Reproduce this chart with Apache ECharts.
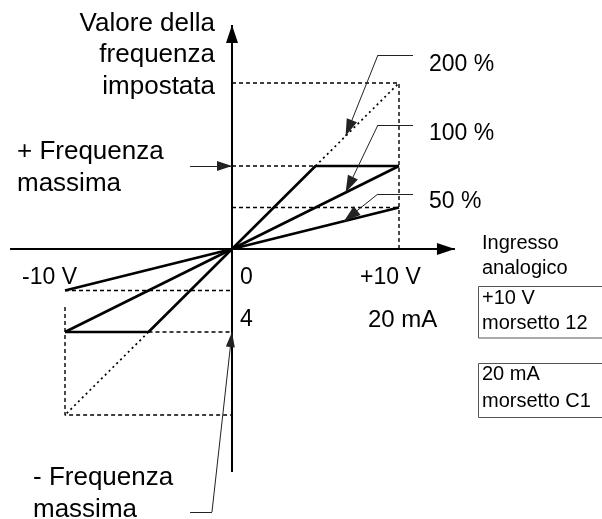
<!DOCTYPE html>
<html>
<head>
<meta charset="utf-8">
<script src="https://cdn.jsdelivr.net/npm/echarts@6/dist/echarts.min.js"></script>
<style>
  html, body { margin: 0; padding: 0; background: #fff; }
  #chart { width: 602px; height: 519px; }
</style>
</head>
<body>
<div id="chart"></div>
<script>
// Analog input (V) vs. set frequency (% of maximum frequency) for three gain settings.
const gains = [200, 100, 50];

const gain50 = [[-10, -50], [0, 0], [10, 50]];
const gain100 = [[-10, -100], [0, 0], [10, 100]];
// 200 % gain is limited at +/- maximum frequency
const gain200Limited = [[-10, -100], [-5, -100], [0, 0], [5, 100], [10, 100]];
const gain200UpperIdeal = [[5, 100], [10, 200]];
const gain200LowerIdeal = [[-5, -100], [-10, -200]];

// reference (dashed) guides
const guideTop = [[0, 200], [10, 200], [10, 0]];
const guideMax = [[0, 100], [5, 100]];
const guideHalf = [[0, 50], [10, 50]];
const guideNegHalf = [[-10, -50], [0, -50]];
const guideNegMax = [[-5, -100], [0, -100]];
const guideBottom = [[-10, -70], [-10, -200], [0, -200]];

// callout leaders for the gain labels: label level and tip point on each curve
const calloutLevels = [233.7, 149.4, 66.3];
const calloutTips = [[6.8, 136], [6.8, 68], [6.7, 33.5]];

// axis extents (data units)
const xAxisSpan = [-13.29, 13.35];
const yAxisSpan = [-268.7, 269.9];

// layout: where the origin sits and the scale of each axis
const W = 602, H = 519;
const ORIGIN_X = 232, ORIGIN_Y = 249;
const PX_PER_VOLT = 16.7, PX_PER_PCT = 0.83;

const FONT = '"Liberation Sans", Arial, sans-serif';
const INK = '#000';

function lineSeries(data, style) {
  return {
    type: 'line',
    data: data,
    showSymbol: false,
    symbol: 'none',
    silent: true,
    animation: false,
    lineStyle: Object.assign({ color: INK, width: 1.3 }, style)
  };
}

const dashed = { type: [4, 3], width: 1.4 };
const dotted = { type: [2, 3.4], width: 1.7 };
const solid = { type: 'solid', width: 2.6 };

function arrowTo(from, to, size, style) {
  return [
    { coord: from, symbol: 'none', lineStyle: style },
    { coord: to, symbol: 'triangle', symbolSize: size, symbolOffset: [0, size[1] / 2] }
  ];
}
function plain(from, to, style) {
  return [
    { coord: from, symbol: 'none', lineStyle: style },
    { coord: to, symbol: 'none' }
  ];
}

const axisStyle = { color: INK, width: 2, type: 'solid' };
const leaderStyle = { color: '#222', width: 1, type: 'solid' };
const elbowX = 8.74, leaderStartX = 10.84;

const markLines = [
  arrowTo([xAxisSpan[0], 0], [xAxisSpan[1], 0], [12, 18], axisStyle),
  arrowTo([0, yAxisSpan[0]], [0, yAxisSpan[1]], [12, 18], axisStyle),
  arrowTo([-2.51, 100], [0, 100], [10, 15], leaderStyle),
  plain([-2.51, -316.9], [-1.2, -316.9], leaderStyle),
  arrowTo([-1.2, -316.9], [0, -100], [9, 15], leaderStyle)
];
calloutLevels.forEach(function (lvl, i) {
  markLines.push(plain([leaderStartX, lvl], [elbowX, lvl], leaderStyle));
  markLines.push(arrowTo([elbowX, lvl], calloutTips[i], [11, 17], leaderStyle));
});

const series = [
  lineSeries(guideTop, dashed),
  lineSeries(guideMax, dashed),
  lineSeries(guideHalf, dashed),
  lineSeries(guideNegHalf, dashed),
  lineSeries(guideNegMax, dashed),
  lineSeries(guideBottom, dashed),
  lineSeries(gain200UpperIdeal, dotted),
  lineSeries(gain200LowerIdeal, dotted),
  lineSeries(gain50, solid),
  lineSeries(gain100, solid),
  lineSeries(gain200Limited, solid),
  {
    type: 'line',
    data: [],
    silent: true,
    animation: false,
    markLine: {
      silent: true,
      animation: false,
      label: { show: false },
      emphasis: { disabled: true },
      lineStyle: leaderStyle,
      data: markLines
    }
  }
];

function txt(text, x, y, size, align) {
  return {
    type: 'text',
    x: x, y: y,
    silent: true,
    style: {
      text: text,
      font: size + 'px ' + FONT,
      fill: INK,
      textAlign: align || 'left',
      textVerticalAlign: 'middle'
    }
  };
}

const gainLabelY = [64.5, 133.5, 201.5];
const graphics = [
  txt('Valore della', 215, 23.5, 26, 'right'),
  txt('frequenza', 215, 55, 26, 'right'),
  txt('impostata', 215, 86.5, 26, 'right'),
  txt('+ Frequenza', 17, 151.5, 26),
  txt('massima', 17, 183.5, 26),
  txt('- Frequenza', 33, 478, 26),
  txt('massima', 33, 510, 26),
  txt('-10 V', 22, 278, 23),
  txt('0', 240, 278, 23),
  txt('+10 V', 360, 278, 23),
  txt('4', 240, 320, 23),
  txt('20 mA', 368, 320, 24),
  txt('Ingresso', 482, 243, 20),
  txt('analogico', 482, 268, 20),
  {
    type: 'rect', silent: true,
    shape: { x: 478.5, y: 286.5, width: 140, height: 51.5 },
    style: { fill: 'none', stroke: '#555', lineWidth: 1 }
  },
  txt('+10 V', 482, 298, 20),
  txt('morsetto 12', 482, 323, 20),
  {
    type: 'rect', silent: true,
    shape: { x: 478.5, y: 363.5, width: 140, height: 54 },
    style: { fill: 'none', stroke: '#555', lineWidth: 1 }
  },
  txt('20 mA', 482, 374, 20),
  txt('morsetto C1', 482, 401, 20)
];
gains.forEach(function (g, i) {
  graphics.push(txt(g + ' %', 429, gainLabelY[i], 23));
});

const chart = echarts.init(document.getElementById('chart'), null, { renderer: 'canvas' });
chart.setOption({
  animation: false,
  backgroundColor: '#fff',
  grid: { left: 0, right: 0, top: 0, bottom: 0 },
  xAxis: {
    type: 'value',
    show: false,
    min: -ORIGIN_X / PX_PER_VOLT,
    max: (W - ORIGIN_X) / PX_PER_VOLT
  },
  yAxis: {
    type: 'value',
    show: false,
    min: -(H - ORIGIN_Y) / PX_PER_PCT,
    max: ORIGIN_Y / PX_PER_PCT
  },
  series: series,
  graphic: graphics
});
</script>
</body>
</html>
